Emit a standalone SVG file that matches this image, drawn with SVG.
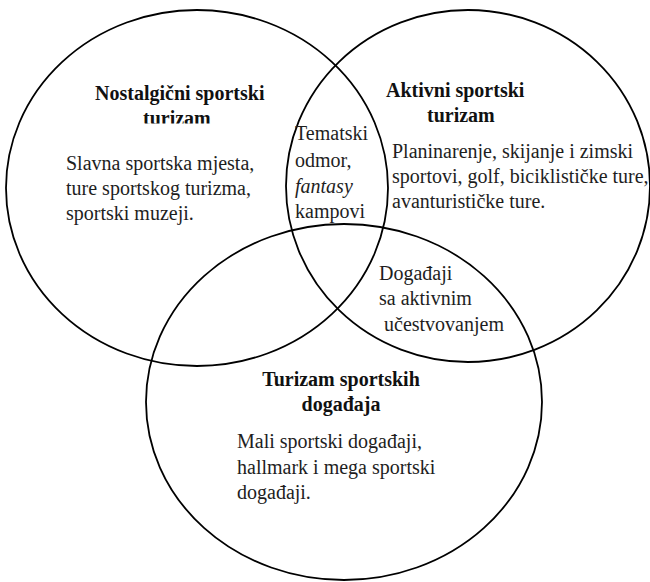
<svg xmlns="http://www.w3.org/2000/svg" width="650" height="582" viewBox="0 0 650 582">
<style>
.c{fill:none;stroke:#000;stroke-width:1.8}
text{font-family:"Liberation Serif","Times New Roman",serif;font-size:20px;fill:#1e1e1e}
.b{font-weight:bold;fill:#111}
.i{font-style:italic}
.m{text-anchor:middle}
</style>
<defs>
<clipPath id="clipT"><rect x="100" y="100" width="160" height="23.5"/></clipPath>
</defs>
<rect width="650" height="582" fill="#fff"/>
<g id="connectors"></g>
<g id="nostalgic">
<ellipse class="c" cx="197" cy="188" rx="191" ry="178"/>
<text class="b" x="95" y="100">Nostalgični sportski</text>
<text class="b" x="143" y="124.5" clip-path="url(#clipT)">turizam</text>
<text x="66" y="170">Slavna sportska mjesta,</text>
<text x="66" y="195">ture sportskog turizma,</text>
<text x="66" y="220">sportski muzeji.</text>
</g>
<g id="active">
<ellipse class="c" cx="468" cy="186" rx="182" ry="176"/>
<text class="b" x="386" y="97">Aktivni sportski</text>
<text class="b" x="427" y="122">turizam</text>
<text x="392" y="158">Planinarenje, skijanje i zimski</text>
<text x="392" y="183">sportovi, golf, biciklističke ture,</text>
<text x="392" y="208">avanturističke ture.</text>
</g>
<g id="events">
<ellipse class="c" cx="344" cy="402" rx="198" ry="178"/>
<text class="b m" x="341" y="386">Turizam sportskih</text>
<text class="b m" x="341" y="411">događaja</text>
<text x="237" y="448">Mali sportski događaji,</text>
<text x="237" y="474">hallmark i mega sportski</text>
<text x="237" y="499">događaji.</text>
</g>
<g id="overlap-nostalgic-active">
<text x="295" y="140">Tematski</text>
<text x="295" y="167">odmor,</text>
<text class="i" x="295" y="193">fantasy</text>
<text x="295" y="218">kampovi</text>
</g>
<g id="overlap-active-events">
<text x="379" y="280">Događaji</text>
<text x="379" y="305">sa aktivnim</text>
<text x="384" y="331">učestvovanjem</text>
</g>
</svg>
